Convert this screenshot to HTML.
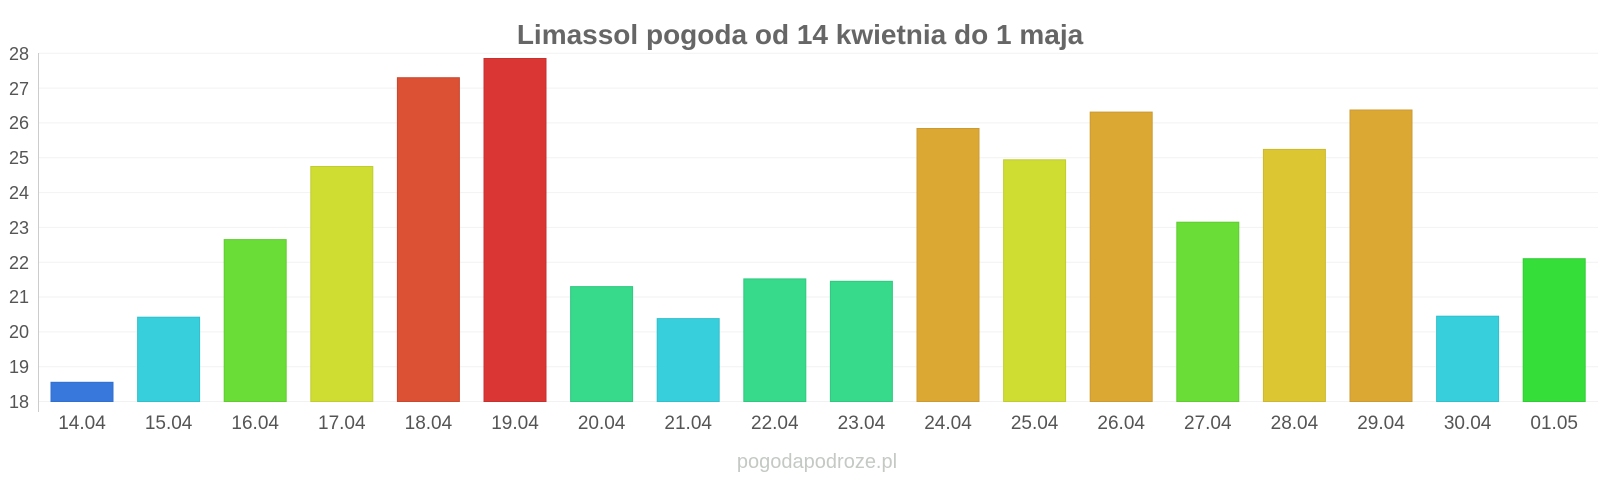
<!DOCTYPE html>
<html><head><meta charset="utf-8"><style>
html,body{margin:0;padding:0;background:#fff;}
svg{display:block;font-family:"Liberation Sans",Arial,sans-serif;}
</style></head><body>
<svg width="1600" height="480" viewBox="0 0 1600 480" xmlns="http://www.w3.org/2000/svg">
<text x="800" y="44" text-anchor="middle" font-size="28" font-weight="bold" fill="#666">Limassol pogoda od 14 kwietnia do 1 maja</text>
<g stroke="#f2f2f2" stroke-width="1">
<line x1="39" x2="1598" y1="53.3" y2="53.3"/><line x1="39" x2="1598" y1="88.1" y2="88.1"/>
<line x1="39" x2="1598" y1="122.9" y2="122.9"/><line x1="39" x2="1598" y1="157.8" y2="157.8"/>
<line x1="39" x2="1598" y1="192.6" y2="192.6"/><line x1="39" x2="1598" y1="227.4" y2="227.4"/>
<line x1="39" x2="1598" y1="262.2" y2="262.2"/><line x1="39" x2="1598" y1="297" y2="297"/>
<line x1="39" x2="1598" y1="331.9" y2="331.9"/><line x1="39" x2="1598" y1="366.7" y2="366.7"/>
<line x1="39" x2="1598" y1="401.5" y2="401.5"/>
</g>
<line x1="38.5" x2="38.5" y1="53" y2="412" stroke="#ccc"/>
<g font-size="18" fill="#555" text-anchor="end">
<text x="29" y="60">28</text><text x="29" y="95">27</text><text x="29" y="129">26</text>
<text x="29" y="164">25</text><text x="29" y="199">24</text><text x="29" y="234">23</text>
<text x="29" y="269">22</text><text x="29" y="303">21</text><text x="29" y="338">20</text>
<text x="29" y="373">19</text><text x="29" y="408">18</text>
</g>
<g stroke-width="1">
<rect x="51" y="382.3" width="62" height="19.2" fill="#3878dc" stroke="#3070d0"/>
<rect x="137.6" y="317.2" width="62" height="84.3" fill="#36cfdb" stroke="#30c0cc"/>
<rect x="224.2" y="239.6" width="62" height="161.9" fill="#6ade37" stroke="#60cc30"/>
<rect x="310.8" y="166.5" width="62" height="235" fill="#cfdd33" stroke="#c0cc30"/>
<rect x="397.4" y="77.7" width="62" height="323.8" fill="#dc5033" stroke="#c84830"/>
<rect x="484" y="58.5" width="62" height="343" fill="#da3633" stroke="#c83030"/>
<rect x="570.6" y="286.6" width="62" height="114.9" fill="#36da8a" stroke="#30c880"/>
<rect x="657.2" y="318.6" width="62" height="82.9" fill="#36cfdb" stroke="#30c0cc"/>
<rect x="743.8" y="278.9" width="62" height="122.6" fill="#36da8a" stroke="#30c880"/>
<rect x="830.4" y="281.3" width="62" height="120.2" fill="#36da8a" stroke="#30c880"/>
<rect x="917" y="128.5" width="62" height="273" fill="#dca834" stroke="#cc9a30"/>
<rect x="1003.6" y="159.8" width="62" height="241.7" fill="#cfdd33" stroke="#c0cc30"/>
<rect x="1090.2" y="112.1" width="62" height="289.4" fill="#dca834" stroke="#cc9a30"/>
<rect x="1176.8" y="222.2" width="62" height="179.3" fill="#6ade37" stroke="#60cc30"/>
<rect x="1263.4" y="149.4" width="62" height="252.1" fill="#dcc733" stroke="#ccb830"/>
<rect x="1350" y="110" width="62" height="291.5" fill="#dca834" stroke="#cc9a30"/>
<rect x="1436.6" y="316.2" width="62" height="85.3" fill="#36cfdb" stroke="#30c0cc"/>
<rect x="1523.2" y="258.7" width="62" height="142.8" fill="#36de3a" stroke="#30cc34"/>
</g>
<g font-size="19" fill="#555" text-anchor="middle">
<text x="82" y="429">14.04</text><text x="168.6" y="429">15.04</text><text x="255.2" y="429">16.04</text>
<text x="341.8" y="429">17.04</text><text x="428.4" y="429">18.04</text><text x="515" y="429">19.04</text>
<text x="601.6" y="429">20.04</text><text x="688.2" y="429">21.04</text><text x="774.8" y="429">22.04</text>
<text x="861.4" y="429">23.04</text><text x="948" y="429">24.04</text><text x="1034.6" y="429">25.04</text>
<text x="1121.2" y="429">26.04</text><text x="1207.8" y="429">27.04</text><text x="1294.4" y="429">28.04</text>
<text x="1381" y="429">29.04</text><text x="1467.6" y="429">30.04</text><text x="1554.2" y="429">01.05</text>
</g>
<text x="817" y="468" text-anchor="middle" font-size="20" fill="#c4c9c4">pogodapodroze.pl</text>
</svg>
</body></html>
